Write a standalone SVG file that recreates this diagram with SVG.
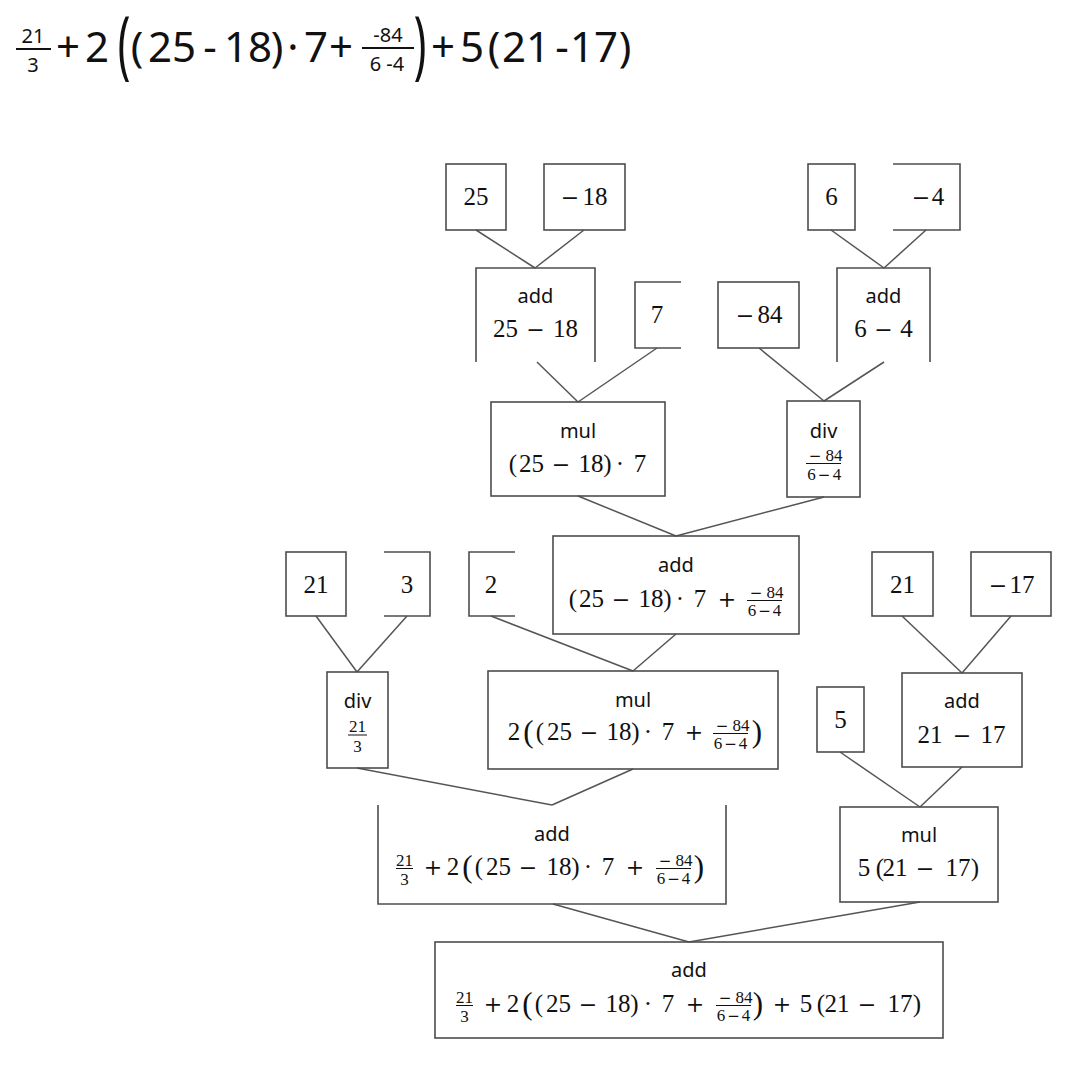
<svg xmlns="http://www.w3.org/2000/svg" width="1071" height="1070" viewBox="0 0 1071 1070">
<style>
.b{fill:none;stroke:#4d4d4d;stroke-width:1.6}
.c line{stroke:#555;stroke-width:1.5}
.lbl{font-family:"Noto Sans",sans-serif;font-size:20px;fill:#111;text-anchor:middle}
.m{font-family:"Liberation Serif",serif;font-size:25px;fill:#111;text-anchor:middle}
.f{font-family:"Liberation Serif",serif;font-size:17px;fill:#111;text-anchor:middle}
.op{font-family:"DejaVu Serif",serif;font-size:22px}
.opf{font-family:"DejaVu Serif",serif;font-size:15px}
.bp{font-family:"Liberation Serif",serif;font-size:31px;fill:#111;text-anchor:middle}
.bar{stroke:#111;stroke-width:1}
.t{font-family:"Noto Sans",sans-serif;font-size:42px;fill:#111;text-anchor:middle}
.tf{font-family:"Noto Sans",sans-serif;font-size:20px;fill:#111;text-anchor:middle}
</style>
<rect width="1071" height="1070" fill="#fff"/>

<g id="title">
<text class="tf" x="33" y="43">21</text><line x1="16" y1="49" x2="51" y2="49" stroke="#111" stroke-width="2"/><text class="tf" x="33" y="72">3</text>
<text class="t" x="68" y="62">+</text>
<text class="t" x="97" y="62">2</text>
<text class="t" transform="translate(124,49) scale(1,1.78)" x="0" y="12">(</text>
<text class="t" x="137" y="62">(</text>
<text class="t" x="172" y="62">25</text>
<text class="t" x="210" y="62">-</text>
<text class="t" x="248" y="62">18</text>
<text class="t" x="277" y="62">)</text>
<text class="t" x="293" y="62">·</text>
<text class="t" x="316" y="62">7</text>
<text class="t" x="341" y="62">+</text>
<text class="tf" x="388" y="42">-84</text><line x1="362" y1="48" x2="414" y2="48" stroke="#111" stroke-width="2"/><text class="tf" x="387" y="71">6 -4</text>
<text class="t" transform="translate(420,49) scale(1,1.78)" x="0" y="12">)</text>
<text class="t" x="443" y="62">+</text>
<text class="t" x="472" y="62">5</text>
<text class="t" x="494" y="62">(</text>
<text class="t" x="526" y="62">21</text>
<text class="t" x="562" y="62">-</text>
<text class="t" x="594" y="62">17</text>
<text class="t" x="625" y="62">)</text>
</g>

<g id="connectors" class="c">
<line x1="476" y1="230" x2="535" y2="268"/>
<line x1="584" y1="230" x2="535" y2="268"/>
<line x1="831" y1="230" x2="884" y2="268"/>
<line x1="926" y1="230" x2="884" y2="268"/>
<line x1="537" y1="362" x2="578" y2="402"/>
<line x1="657" y1="348" x2="578" y2="402"/>
<line x1="759" y1="348" x2="824" y2="401"/>
<line x1="884" y1="362" x2="824" y2="401"/>
<line x1="578" y1="496" x2="676" y2="536"/>
<line x1="824" y1="497" x2="676" y2="536"/>
<line x1="316" y1="616" x2="357" y2="672"/>
<line x1="407" y1="616" x2="357" y2="672"/>
<line x1="491" y1="616" x2="633" y2="671"/>
<line x1="676" y1="634" x2="633" y2="671"/>
<line x1="902" y1="616" x2="962" y2="673"/>
<line x1="1011" y1="616" x2="962" y2="673"/>
<line x1="357" y1="768" x2="552" y2="805"/>
<line x1="633" y1="769" x2="552" y2="805"/>
<line x1="840" y1="752" x2="920" y2="807"/>
<line x1="962" y1="767" x2="920" y2="807"/>
<line x1="553" y1="904" x2="689" y2="942"/>
<line x1="920" y1="902" x2="689" y2="942"/>
</g>

<g id="n25"><rect class="b" x="446" y="164" width="60" height="66"/><text class="m" x="476" y="205">25</text></g>
<g id="nm18"><rect class="b" x="544" y="164" width="81" height="66"/><text class="m" y="205"><tspan class="op" x="570">−</tspan><tspan x="595">18</tspan></text></g>
<g id="add1"><path class="b" d="M476,362 V268 H595 V362"/><text class="lbl" x="535.5" y="303">add</text><text class="m" y="337"><tspan x="505.5">25</tspan><tspan class="op" x="535.5">−</tspan><tspan x="565.5">18</tspan></text></g>
<g id="n7"><path class="b" d="M681,282 H635 V348 H681"/><text class="m" x="657" y="323">7</text></g>
<g id="nm84"><rect class="b" x="718" y="282" width="81" height="66"/><text class="m" y="323"><tspan class="op" x="745">−</tspan><tspan x="770">84</tspan></text></g>
<g id="n6"><rect class="b" x="808" y="164" width="47" height="66"/><text class="m" x="831.5" y="205">6</text></g>
<g id="nm4"><path class="b" d="M893,164 H960 V230 H893"/><text class="m" y="205"><tspan class="op" x="921">−</tspan><tspan x="938">4</tspan></text></g>
<g id="add2"><path class="b" d="M837,362 V268 H930 V362"/><text class="lbl" x="883.5" y="303">add</text><text class="m" y="337"><tspan x="860.5">6</tspan><tspan class="op" x="883.5">−</tspan><tspan x="906.5">4</tspan></text></g>

<g id="mul1"><rect class="b" x="491" y="402" width="174" height="94"/><text class="lbl" x="578" y="438">mul</text>
<text class="m" y="472"><tspan x="513">(</tspan><tspan x="531.5">25</tspan><tspan class="op" x="561">−</tspan><tspan x="591">18</tspan><tspan x="607.5">)</tspan><tspan x="620">·</tspan><tspan x="640">7</tspan></text></g>
<g id="div1"><rect class="b" x="787" y="401" width="73" height="96"/><text class="lbl" x="823.5" y="438">div</text>
<text class="f" y="461"><tspan class="opf" x="815">−</tspan><tspan x="834">84</tspan></text><line class="bar" x1="806" y1="463.5" x2="841" y2="463.5"/><text class="f" y="480"><tspan x="811.5">6</tspan><tspan class="opf" x="824">−</tspan><tspan x="837">4</tspan></text></g>

<g id="add3"><rect class="b" x="553" y="536" width="246" height="98"/><text class="lbl" x="676" y="572">add</text>
<text class="m" y="607"><tspan x="573">(</tspan><tspan x="591.5">25</tspan><tspan class="op" x="621">−</tspan><tspan x="651">18</tspan><tspan x="667.5">)</tspan><tspan x="680">·</tspan><tspan x="700">7</tspan><tspan class="op" x="727">+</tspan></text>
<text class="f" y="598"><tspan class="opf" x="756">−</tspan><tspan x="775">84</tspan></text><line class="bar" x1="747" y1="600.5" x2="782" y2="600.5"/><text class="f" y="616"><tspan x="752">6</tspan><tspan class="opf" x="764.5">−</tspan><tspan x="777">4</tspan></text></g>

<g id="n21a"><rect class="b" x="286" y="552" width="60" height="64"/><text class="m" x="316" y="593">21</text></g>
<g id="n3"><path class="b" d="M384,552 H430 V616 H384"/><text class="m" x="407" y="593">3</text></g>
<g id="n2"><path class="b" d="M515,552 H469 V616 H515"/><text class="m" x="491" y="593">2</text></g>
<g id="n21b"><rect class="b" x="872" y="552" width="61" height="64"/><text class="m" x="902.5" y="593">21</text></g>
<g id="nm17"><rect class="b" x="971" y="552" width="80" height="64"/><text class="m" y="593"><tspan class="op" x="998">−</tspan><tspan x="1022">17</tspan></text></g>

<g id="div2"><rect class="b" x="327" y="672" width="61" height="96"/><text class="lbl" x="357.5" y="708">div</text>
<text class="f" x="357.5" y="732">21</text><line class="bar" x1="348" y1="735" x2="367" y2="735"/><text class="f" x="357.5" y="752">3</text></g>

<g id="mul2"><rect class="b" x="488" y="671" width="290" height="98"/><text class="lbl" x="633" y="707">mul</text>
<text class="m" y="740"><tspan x="514">2</tspan><tspan x="540">(</tspan><tspan x="559.5">25</tspan><tspan class="op" x="589">−</tspan><tspan x="619">18</tspan><tspan x="635.5">)</tspan><tspan x="648">·</tspan><tspan x="668">7</tspan><tspan class="op" x="694">+</tspan></text>
<text class="bp" x="528.5" y="741.5">(</text><text class="bp" x="757" y="741.5">)</text>
<text class="f" y="731"><tspan class="opf" x="722">−</tspan><tspan x="741">84</tspan></text><line class="bar" x1="713" y1="733.5" x2="748" y2="733.5"/><text class="f" y="749"><tspan x="718">6</tspan><tspan class="opf" x="730.5">−</tspan><tspan x="743">4</tspan></text></g>

<g id="n5"><rect class="b" x="817" y="687" width="47" height="65"/><text class="m" x="840.5" y="728">5</text></g>
<g id="add5"><rect class="b" x="902" y="673" width="120" height="94"/><text class="lbl" x="962" y="708">add</text><text class="m" y="743"><tspan x="930">21</tspan><tspan class="op" x="962">−</tspan><tspan x="993">17</tspan></text></g>

<g id="add4"><path class="b" d="M378,805 V904 H726 V805"/><text class="lbl" x="552" y="841">add</text>
<text class="f" x="404.5" y="866">21</text><line class="bar" x1="396" y1="868.5" x2="413" y2="868.5"/><text class="f" x="404.5" y="885">3</text>
<text class="m" y="875"><tspan class="op" x="433">+</tspan><tspan x="453">2</tspan><tspan x="479">(</tspan><tspan x="498.5">25</tspan><tspan class="op" x="528">−</tspan><tspan x="559">18</tspan><tspan x="575.5">)</tspan><tspan x="588">·</tspan><tspan x="608">7</tspan><tspan class="op" x="635">+</tspan></text>
<text class="bp" x="467.5" y="876.5">(</text><text class="bp" x="699" y="876.5">)</text>
<text class="f" y="866"><tspan class="opf" x="665">−</tspan><tspan x="684">84</tspan></text><line class="bar" x1="656" y1="868.5" x2="691" y2="868.5"/><text class="f" y="884"><tspan x="661">6</tspan><tspan class="opf" x="673.5">−</tspan><tspan x="686">4</tspan></text></g>

<g id="mul3"><rect class="b" x="840" y="807" width="158" height="95"/><text class="lbl" x="919" y="842">mul</text>
<text class="m" y="876"><tspan x="864">5</tspan><tspan x="880">(</tspan><tspan x="895">21</tspan><tspan class="op" x="925">−</tspan><tspan x="958">17</tspan><tspan x="975">)</tspan></text></g>

<g id="final"><rect class="b" x="435" y="942" width="508" height="96"/><text class="lbl" x="689" y="977">add</text>
<text class="f" x="464.5" y="1003">21</text><line class="bar" x1="456" y1="1005.5" x2="473" y2="1005.5"/><text class="f" x="464.5" y="1022">3</text>
<text class="m" y="1012"><tspan class="op" x="493">+</tspan><tspan x="513">2</tspan><tspan x="539">(</tspan><tspan x="558.5">25</tspan><tspan class="op" x="588">−</tspan><tspan x="618">18</tspan><tspan x="634.5">)</tspan><tspan x="648">·</tspan><tspan x="668">7</tspan><tspan class="op" x="695">+</tspan><tspan class="op" x="782">+</tspan><tspan x="806">5</tspan><tspan x="821">(</tspan><tspan x="837">21</tspan><tspan class="op" x="867">−</tspan><tspan x="900">17</tspan><tspan x="917">)</tspan></text>
<text class="bp" x="527.5" y="1013.5">(</text><text class="bp" x="758" y="1013.5">)</text>
<text class="f" y="1003"><tspan class="opf" x="725">−</tspan><tspan x="744">84</tspan></text><line class="bar" x1="716" y1="1005.5" x2="751" y2="1005.5"/><text class="f" y="1021"><tspan x="721">6</tspan><tspan class="opf" x="733.5">−</tspan><tspan x="746">4</tspan></text></g>
</svg>
